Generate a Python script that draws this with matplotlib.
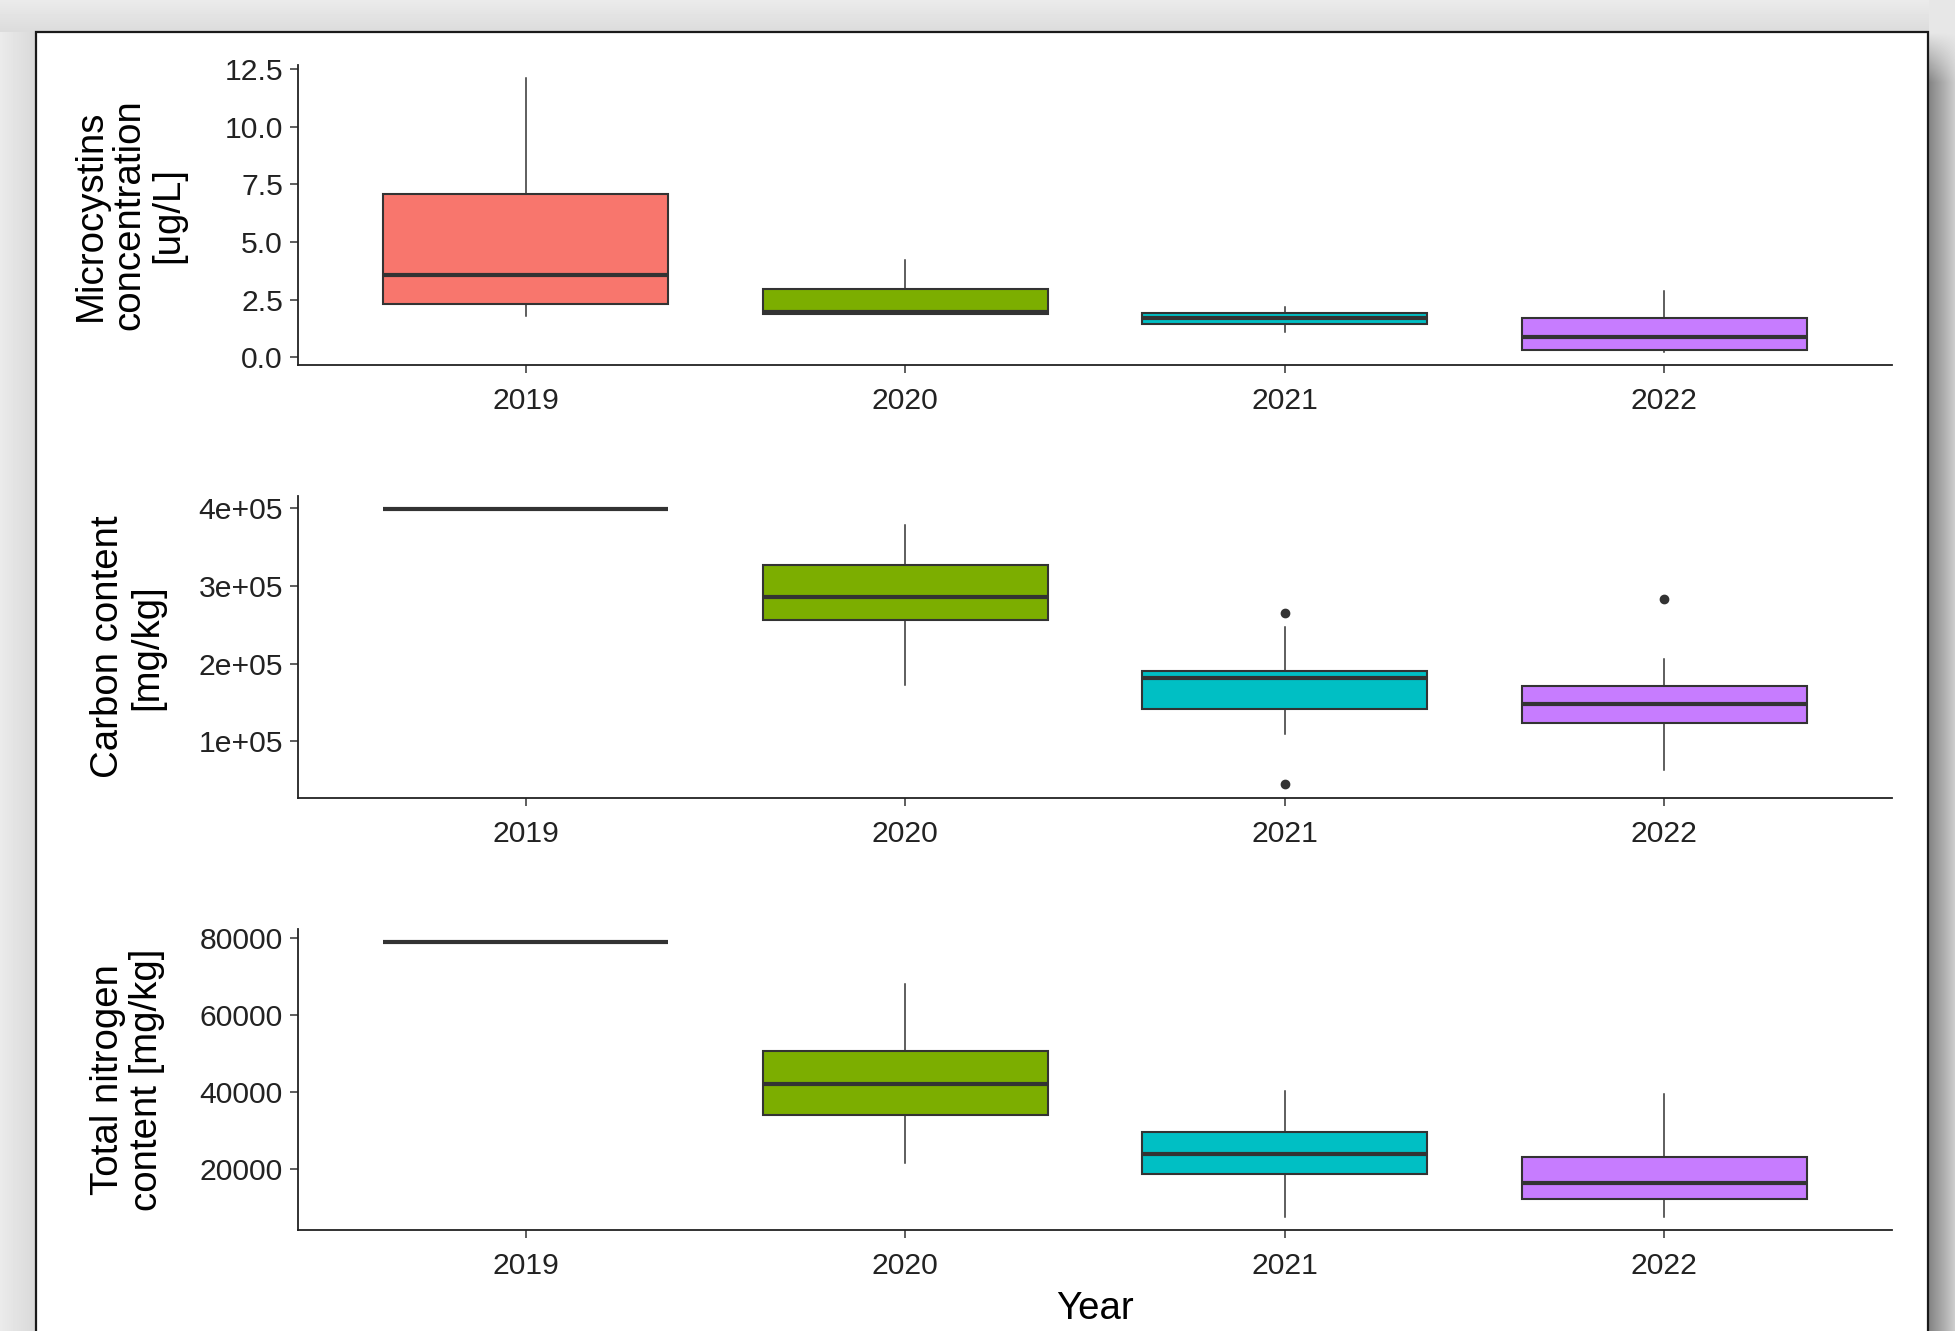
import numpy as np
import matplotlib
matplotlib.use("Agg")
import matplotlib.pyplot as plt
from matplotlib.patches import Rectangle

plt.rcParams['font.family'] = ['Liberation Sans', 'DejaVu Sans']

years = ['2019', '2020', '2021', '2022']
fills = ['#F8766D', '#7CAE00', '#00BFC4', '#C77CFF']

# box statistics per year: lower whisker, Q1, median, Q3, upper whisker
mc_lo = [1.79, 1.87, 1.11, 0.24]
mc_q1 = [2.31, 1.89, 1.44, 0.32]
mc_med = [3.58, 1.98, 1.69, 0.87]
mc_q3 = [7.07, 2.95, 1.93, 1.72]
mc_hi = [12.09, 4.22, 2.17, 2.89]
mc_out = [[], [], [], []]

c_lo = [398700, 172300, 109100, 62800]
c_q1 = [398700, 256100, 141400, 123600]
c_med = [398700, 286100, 181400, 147400]
c_q3 = [398700, 326900, 190700, 171000]
c_hi = [398700, 378500, 247400, 205400]
c_out = [[], [], [265400, 44300], [282700]]

n_lo = [78800, 21500, 7530, 7530]
n_q1 = [78800, 33900, 18550, 12050]
n_med = [78800, 42000, 23740, 16360]
n_q3 = [78800, 50500, 29450, 23120]
n_hi = [78800, 67900, 40260, 39320]
n_out = [[], [], [], []]

mc_ticks = [0.0, 2.5, 5.0, 7.5, 10.0, 12.5]
mc_ticklabels = ['0.0', '2.5', '5.0', '7.5', '10.0', '12.5']
c_ticks = [100000, 200000, 300000, 400000]
c_ticklabels = ['1e+05', '2e+05', '3e+05', '4e+05']
n_ticks = [20000, 40000, 60000, 80000]
n_ticklabels = ['20000', '40000', '60000', '80000']

W, H = 1956, 1331
fig = plt.figure(figsize=(W / 100, H / 100), dpi=100)
fig.patch.set_facecolor('#e8e8e8')

# window backdrop: grey surround, drop shadow, white page with a dark border
bg = fig.add_axes([0, 0, 1, 1], zorder=-5)
bg.set_facecolor('#e8e8e8')
bg.axis('off')
yy, xx = np.mgrid[0:H, 0:W - 1929]
shade = 0.52 + 0.30 * (xx / (W - 1929))
fade = np.clip((yy - 32) / 50.0, 0, 1)
shade = 0.91 * (1 - fade) + shade * fade
bg.imshow(shade, cmap='gray', vmin=0, vmax=1, extent=(1929, W, H, 0), aspect='auto')
left = np.linspace(0.92, 0.85, 36)[None, :]
bg.imshow(left, cmap='gray', vmin=0, vmax=1, extent=(0, 36, H, 32), aspect='auto')
top = np.linspace(0.92, 0.86, 32)[:, None]
bg.imshow(top, cmap='gray', vmin=0, vmax=1, extent=(0, 1929, 32, 0), aspect='auto')
bg.add_patch(Rectangle((36, 32), 1892, 1400, facecolor='white', edgecolor='#1a1a1a',
                       linewidth=1.6, zorder=3))
bg.set_xlim(0, W)
bg.set_ylim(H, 0)

ax_left = 298 / W
ax_width = (1892 - 298) / W
panels = [
    (64.8, 365.4),
    (495.6, 798.1),
    (928.6, 1230.4),
]

tick_fs = 21.7
title_fs = 27.6
edge = '#333333'


def draw_panel(ax, lo, q1, med, q3, hi, out, ticks, ticklabels, ylabel, label_x):
    stats = []
    for i in range(len(years)):
        stats.append({'whislo': lo[i], 'q1': q1[i], 'med': med[i], 'q3': q3[i],
                      'whishi': hi[i], 'fliers': np.array(out[i])})
    bp = ax.bxp(stats, positions=range(1, len(years) + 1), widths=0.75,
                patch_artist=True, showcaps=False,
                boxprops=dict(edgecolor=edge, linewidth=1.5),
                medianprops=dict(color=edge, linewidth=3.0, solid_capstyle='butt'),
                whiskerprops=dict(color=edge, linewidth=1.1),
                flierprops=dict(marker='o', markersize=6, markerfacecolor=edge,
                                markeredgecolor=edge))
    for patch, c in zip(bp['boxes'], fills):
        patch.set_facecolor(c)

    values = lo + hi + [v for o in out for v in o]
    vmin, vmax = min(values), max(values)
    pad = 0.05 * (vmax - vmin)
    ax.set_ylim(vmin - pad, vmax + pad)
    ax.set_xlim(0.4, len(years) + 0.6)

    ax.set_yticks(ticks)
    ax.set_yticklabels(ticklabels)
    ax.set_xticks(range(1, len(years) + 1))
    ax.set_xticklabels(years)

    for s in ['top', 'right']:
        ax.spines[s].set_visible(False)
    for s in ['left', 'bottom']:
        ax.spines[s].set_linewidth(1.3)
        ax.spines[s].set_color('#222222')
    ax.tick_params(direction='out', length=5.8, width=1.1, color=edge,
                   labelsize=tick_fs, labelcolor='#222222', pad=5)
    ax.tick_params(axis='x', pad=10)
    ax.set_ylabel(ylabel, fontsize=title_fs, linespacing=1.1, color='black')
    ax.yaxis.set_label_coords(label_x, 0.5)


axes = []
for top_px, bot_px in panels:
    a = fig.add_axes([ax_left, 1 - bot_px / H, ax_width, (bot_px - top_px) / H])
    a.set_facecolor('none')
    axes.append(a)

draw_panel(axes[0], mc_lo, mc_q1, mc_med, mc_q3, mc_hi, mc_out,
           mc_ticks, mc_ticklabels, 'Microcystins\nconcentration\n[ug/L]', (186 - 298) / (1892 - 298))
draw_panel(axes[1], c_lo, c_q1, c_med, c_q3, c_hi, c_out,
           c_ticks, c_ticklabels, 'Carbon content\n[mg/kg]', (165 - 298) / (1892 - 298))
draw_panel(axes[2], n_lo, n_q1, n_med, n_q3, n_hi, n_out,
           n_ticks, n_ticklabels, 'Total nitrogen\ncontent [mg/kg]', (165 - 298) / (1892 - 298))

axes[2].set_xlabel('Year', fontsize=title_fs, color='black', labelpad=7.5)

fig.savefig('out.png', dpi=100, facecolor=fig.get_facecolor())
